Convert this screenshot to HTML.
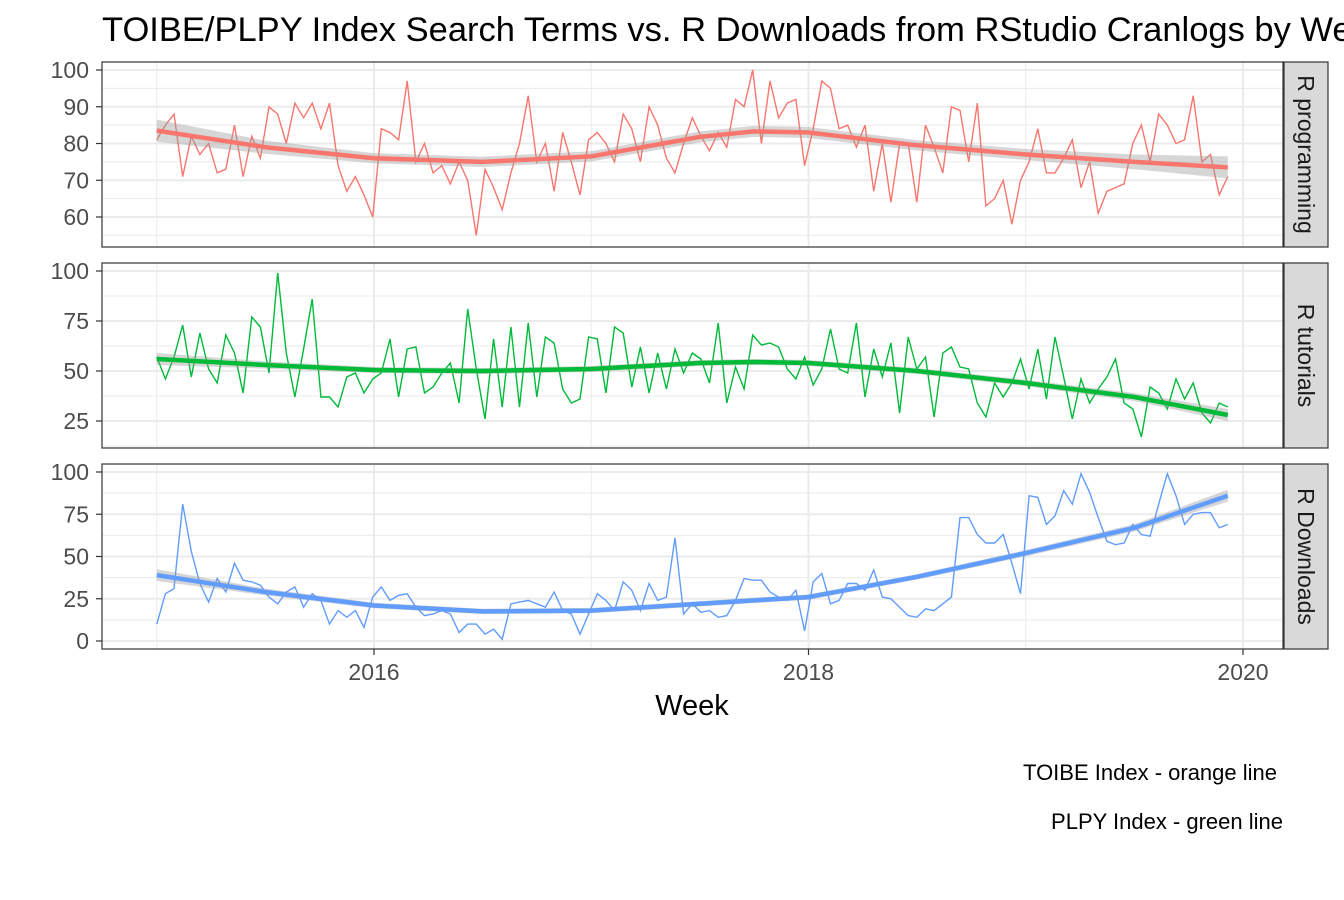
<!DOCTYPE html>
<html><head><meta charset="utf-8"><style>
html,body{margin:0;padding:0;background:#fff;}
svg{display:block;font-family:"Liberation Sans",Arial,sans-serif;}
</style></head><body>
<svg id="chart" width="1344" height="900" viewBox="0 0 1344 900">
<text x="102" y="41" font-size="34.5" fill="#000">TOIBE/PLPY Index Search Terms vs. R Downloads from RStudio Cranlogs by Week</text>
<text x="692" y="715" font-size="29" text-anchor="middle" fill="#000">Week</text>
<text x="1277" y="780" font-size="22" text-anchor="end" fill="#000">TOIBE Index - orange line</text>
<text x="1283" y="829" font-size="22" text-anchor="end" fill="#000">PLPY Index - green line</text>
</svg>
<script>
const xTicks = [2016, 2018, 2020];
const xMinor = [2015, 2017, 2019];
const startYear = 2015.0, endYear = 2019.93;
const rProgramming = [81,85,88,71,82,77,80,72,73,85,71,82,76,90,88,80,91,87,91,84,91,74,67,71,66,60,84,83,81,97,75,80,72,74,69,75,70,55,73,68,62,72,80,93,75,80,67,83,75,66,81,83,80,75,88,84,75,90,85,76,72,80,87,
 82,78,83,79,92,90,100,80,97,87,91,92,74,84,97,95,84,85,79,85,67,80,64,80,80,64,85,79,72,90,89,75,91,63,65,70,58,70,75,84,72,72,76,81,68,75,61,67,68,69,80,85,75,88,85,80,81,93,75,77,66,71];
const rTutorials = [57,46,57,73,47,69,51,44,68,59,39,77,72,49,99,59,37,61,86,37,37,32,47,49,39,46,49,66,37,61,62,39,42,49,54,34,81,51,26,66,32,72,32,74,37,67,64,41,34,36,67,66,39,72,69,42,62,39,59,41,61,49,59,
 56,44,74,34,52,41,68,63,64,62,51,46,57,43,51,71,51,49,74,37,61,47,64,29,67,51,57,27,59,62,52,51,34,27,44,37,44,56,41,61,36,67,47,26,46,34,41,47,56,34,31,17,42,39,31,46,36,44,29,24,34,32];
const rDownloads = [10,28,31,81,53,34,23,37,29,46,36,35,33,26,22,29,32,20,28,24,10,18,14,18,8,26,32,24,27,28,20,15,16,18,16,5,10,10,4,7,1,22,23,24,22,20,29,18,16,4,16,28,24,18,35,30,18,34,24,26,61,16,22,
 17,18,14,15,24,37,36,36,29,26,24,30,6,35,40,22,24,34,34,30,42,26,25,20,15,14,19,18,22,26,73,73,63,58,58,63,46,28,86,85,69,74,89,81,99,88,73,59,57,58,69,63,62,81,99,86,69,75,76,76,67,69];
const smoothT = [2015.0,2015.5,2016.0,2016.5,2017.0,2017.5,2017.75,2018.0,2018.5,2019.0,2019.5,2019.93];
const smoothProg = [83.5,79,76,75,76.5,81.8,83.3,83,79.5,77,75,73.5];
const seProg = [3,1.8,1.4,1.4,1.4,1.5,1.5,1.5,1.4,1.5,2,3];
const smoothTut = [56,53,50.5,50,51,54,54.5,54,50,44,37,28];
const seTut = [3,1.8,1.5,1.5,1.5,1.5,1.5,1.5,1.5,1.6,2,3];
const smoothDl = [39,29,21,17.5,18,22,24,26,38,52,67,86];
const seDl = [3.5,2,1.6,1.6,1.6,1.6,1.6,1.6,1.6,1.8,2.2,3.5];

const NS = "http://www.w3.org/2000/svg";
const svg = document.getElementById('chart');
const PX0 = 102, PX1 = 1283;
function xs(t){ return 374 + (t - 2016) * 217.25; }
function tOf(i, n){ return startYear + i * (endYear - startYear) / (n - 1); }
function mk(tag, attrs, parent){
  const e = document.createElementNS(NS, tag);
  for (const k in attrs) e.setAttribute(k, attrs[k]);
  (parent || svg).appendChild(e);
  return e;
}
const panels = [
  {name:'r-programming', label:'R programming', top:62, bot:247, v0:60, y0:217, v1:100, y1:70, major:[60,70,80,90,100], minor:[55,65,75,85,95], data:rProgramming, sm:smoothProg, se:seProg, color:'#F8766D'},
  {name:'r-tutorials', label:'R tutorials', top:263, bot:448, v0:25, y0:421, v1:100, y1:271, major:[25,50,75,100], minor:[12.5,37.5,62.5,87.5], data:rTutorials, sm:smoothTut, se:seTut, color:'#00BA38'},
  {name:'r-downloads', label:'R Downloads', top:464, bot:649, v0:0, y0:641, v1:100, y1:472, major:[0,25,50,75,100], minor:[12.5,37.5,62.5,87.5], data:rDownloads, sm:smoothDl, se:seDl, color:'#619CFF'}
];
panels.forEach(p => {
  const ys = v => p.y0 + (v - p.v0) * (p.y1 - p.y0) / (p.v1 - p.v0);
  const g = mk('g', {});
  
  
  const cid = 'clip-' + p.name;
  const cp = mk('clipPath', {id: cid}, g);
  mk('rect', {x:PX0, y:p.top, width:PX1-PX0, height:p.bot-p.top}, cp);
  const grid = mk('g', {}, g);
  
  
  p.minor.forEach(v => { const y = ys(v); if (y > p.top && y < p.bot) mk('line', {x1:PX0, x2:PX1, y1:y, y2:y, stroke:'#ebebeb', 'stroke-width':1}, grid); });
  xMinor.forEach(t => mk('line', {x1:xs(t), x2:xs(t), y1:p.top, y2:p.bot, stroke:'#ebebeb', 'stroke-width':1}, grid));
  p.major.forEach(v => mk('line', {x1:PX0, x2:PX1, y1:ys(v), y2:ys(v), stroke:'#ebebeb', 'stroke-width':2}, grid));
  xTicks.forEach(t => mk('line', {x1:xs(t), x2:xs(t), y1:p.top, y2:p.bot, stroke:'#ebebeb', 'stroke-width':2}, grid));
  const n = p.data.length;
  const pts = p.data.map((v, i) => xs(tOf(i, n)).toFixed(1) + ',' + ys(v).toFixed(1)).join(' ');
  const line = mk('polyline', {points:pts, fill:'none', stroke:p.color, 'stroke-width':1.4, 'clip-path':'url(#' + cid + ')'}, g);
  
  
  const up = p.sm.map((v, i) => xs(smoothT[i]).toFixed(1) + ',' + ys(v + p.se[i]).toFixed(1));
  const dn = p.sm.map((v, i) => xs(smoothT[i]).toFixed(1) + ',' + ys(v - p.se[i]).toFixed(1)).reverse();
  const band = mk('polygon', {points:up.concat(dn).join(' '), fill:'#999', 'fill-opacity':0.4, stroke:'none'}, g);
  
  
  const sm = mk('polyline', {points:p.sm.map((v, i) => xs(smoothT[i]).toFixed(1) + ',' + ys(v).toFixed(1)).join(' '), fill:'none', stroke:p.color, 'stroke-width':4.5, 'stroke-linejoin':'round'}, g);
  
  
  const border = mk('rect', {x:PX0, y:p.top, width:PX1-PX0, height:p.bot-p.top, fill:'none', stroke:'#333', 'stroke-width':1.2}, g);
  
  
  p.major.forEach(v => {
    const y = ys(v);
    mk('line', {x1:96, x2:PX0, y1:y, y2:y, stroke:'#333', 'stroke-width':1.2}, g);
    const t = mk('text', {x:89, y:y + 8, 'font-size':23, 'text-anchor':'end', fill:'#4d4d4d'}, g);
    t.textContent = v;
    
    
  });
  const strip = mk('rect', {x:1284, y:p.top, width:44, height:p.bot-p.top, fill:'#d9d9d9', stroke:'#333', 'stroke-width':1.2}, g);
  
  
  const cy = (p.top + p.bot) / 2;
  const st = mk('text', {x:1306, y:cy, 'font-size':23, 'text-anchor':'middle', fill:'#1a1a1a', transform:'rotate(90 1306 ' + cy + ')', 'dominant-baseline':'central'}, g);
  st.textContent = p.label;
  
  
});
xTicks.forEach(t => {
  mk('line', {x1:xs(t), x2:xs(t), y1:649, y2:655, stroke:'#333', 'stroke-width':1.2});
  const tx = mk('text', {x:xs(t), y:680, 'font-size':23, 'text-anchor':'middle', fill:'#4d4d4d'});
  tx.textContent = t;
  
  
});
</script>
</body></html>
